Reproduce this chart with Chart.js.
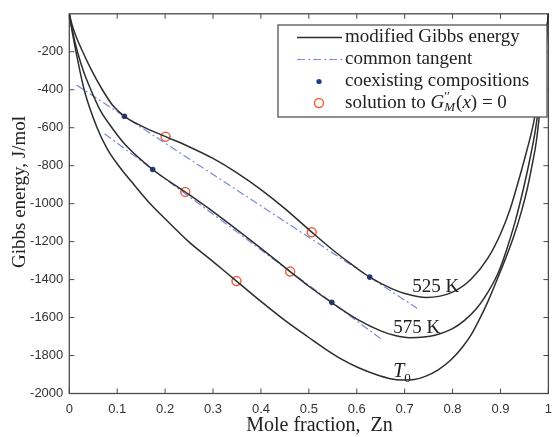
<!doctype html>
<html>
  <head>
    <script src="https://cdn.jsdelivr.net/npm/chart.js"></script>
    <meta name="viewport" content="width=device-width, initial-scale=1" />
    <style>
      html, body { margin: 0; padding: 0; overflow: hidden; background: #fff; }
      #wrap { position: relative; width: 560px; height: 437px; }
    </style>
  </head>
  <body>
    <div id="wrap"><canvas id="gibbsChart" width="560" height="437"></canvas></div>
    <script>
      // modified Gibbs energy (J/mol) against mole fraction of Zn
      const x525 = [0, 0.006, 0.015, 0.028, 0.045, 0.069, 0.09, 0.115, 0.15, 0.201, 0.25, 0.3, 0.35, 0.4, 0.45, 0.506, 0.55, 0.6, 0.627, 0.674, 0.7, 0.745, 0.8, 0.839, 0.873, 0.9, 0.92, 0.941, 0.955, 0.969, 0.985, 0.992, 1];
      const g525 = [0, -60, -125, -200, -290, -400, -480, -540, -590, -647, -700, -762, -838, -926, -1026, -1150, -1244, -1340, -1387, -1449, -1473, -1494, -1466, -1397, -1290, -1160, -1030, -850, -720, -576, -330, -190, 0];

      const x575 = [0, 0.005, 0.017, 0.03, 0.045, 0.065, 0.089, 0.117, 0.174, 0.243, 0.3, 0.372, 0.42, 0.461, 0.5, 0.547, 0.605, 0.65, 0.68, 0.71, 0.74, 0.763, 0.8, 0.825, 0.85, 0.866, 0.894, 0.912, 0.93, 0.948, 0.961, 0.973, 0.985, 0.993, 1];
      const g575 = [0, -70, -200, -305, -400, -510, -600, -690, -820, -940, -1042, -1180, -1275, -1358, -1435, -1520, -1615, -1670, -1695, -1706, -1703, -1693, -1658, -1615, -1552, -1498, -1372, -1250, -1100, -920, -770, -610, -380, -200, 0];

      const xT0 = [0, 0.005, 0.014, 0.031, 0.058, 0.08, 0.103, 0.13, 0.165, 0.2, 0.249, 0.3, 0.349, 0.4, 0.45, 0.5, 0.537, 0.57, 0.605, 0.64, 0.67, 0.695, 0.72, 0.743, 0.77, 0.798, 0.82, 0.839, 0.856, 0.873, 0.901, 0.928, 0.945, 0.956, 0.965, 0.975, 0.986, 0.994, 1];
      const gT0 = [0, -80, -200, -400, -600, -715, -800, -885, -990, -1080, -1200, -1305, -1408, -1515, -1615, -1705, -1770, -1822, -1866, -1900, -1922, -1929, -1926, -1910, -1876, -1820, -1758, -1690, -1610, -1520, -1350, -1170, -1030, -920, -810, -670, -420, -220, 0];

      // common tangents (end points)
      const tanX525 = [0.015, 0.726];
      const tanG525 = [-375, -1551];
      const tanX575 = [0.0735, 0.65];
      const tanG575 = [-632, -1711];

      // coexisting compositions
      const coexX = [0.115, 0.627, 0.174, 0.548];
      const coexG = [-540, -1387, -820, -1520];

      // solutions to G''_M(x) = 0
      const spinX = [0.201, 0.506, 0.242, 0.461, 0.349];
      const spinG = [-647, -1150, -938, -1358, -1408];

      const xTicks = [0, 0.1, 0.2, 0.3, 0.4, 0.5, 0.6, 0.7, 0.8, 0.9, 1];
      const yTicks = [-2000, -1800, -1600, -1400, -1200, -1000, -800, -600, -400, -200];

      const pts = (xs, ys) => xs.map((v, i) => ({ x: v, y: ys[i] }));

      const curveColor = "#2e2e2e";
      const tanColor = "#7b87dc";
      const dotColor = "#1d3c8e";
      const ringColor = "#f0623f";
      const serif = "'Liberation Serif', 'Times New Roman', serif";
      const sans = "'Liberation Sans', Arial, sans-serif";

      const curve = (label, data) => ({
        label, data,
        borderColor: curveColor, borderWidth: 1.5,
        pointRadius: 0, cubicInterpolationMode: "monotone", fill: false,
      });
      const tangent = (data) => ({
        label: "common tangent", data,
        borderColor: tanColor, borderWidth: 1.2, borderDash: [8, 3, 2, 3],
        pointRadius: 0, fill: false,
      });

      // box with inward ticks, axis titles, curve labels and the legend
      const decor = {
        id: "decor",
        beforeDatasetsDraw(chart) {
          const { ctx, chartArea: a, scales } = chart;
          ctx.save();
          ctx.strokeStyle = "#4a4a4a";
          ctx.lineWidth = 1.3;
          ctx.strokeRect(a.left, a.top, a.right - a.left, a.bottom - a.top);
          ctx.lineWidth = 1;
          ctx.beginPath();
          xTicks.forEach((v) => {
            const px = scales.x.getPixelForValue(v);
            ctx.moveTo(px, a.bottom); ctx.lineTo(px, a.bottom - 5);
            ctx.moveTo(px, a.top); ctx.lineTo(px, a.top + 5);
          });
          yTicks.forEach((v) => {
            const py = scales.y.getPixelForValue(v);
            ctx.moveTo(a.left, py); ctx.lineTo(a.left + 5, py);
            ctx.moveTo(a.right, py); ctx.lineTo(a.right - 5, py);
          });
          ctx.stroke();

          // axis titles
          ctx.fillStyle = "#222";
          ctx.textAlign = "center";
          ctx.textBaseline = "middle";
          ctx.font = "20px " + serif;
          ctx.fillText("Mole fraction,  Zn", 319.5, 426);
          ctx.translate(20, 192);
          ctx.rotate(-Math.PI / 2);
          ctx.font = "19px " + serif;
          ctx.fillText("Gibbs energy, J/mol", 0, 0);
          ctx.restore();
        },
        afterDatasetsDraw(chart) {
          const { ctx, scales } = chart;
          const sx = (v) => scales.x.getPixelForValue(v);
          const sy = (v) => scales.y.getPixelForValue(v);
          ctx.save();
          ctx.fillStyle = "#222";
          ctx.textBaseline = "middle";
          ctx.textAlign = "center";
          ctx.font = "19px " + serif;
          ctx.fillText("525 K", sx(0.765), sy(-1439));
          ctx.fillText("575 K", sx(0.725), sy(-1657));
          ctx.textAlign = "left";
          ctx.font = "italic 20px " + serif;
          ctx.fillText("T", sx(0.676), sy(-1885));
          ctx.font = "13px " + serif;
          ctx.fillText("0", sx(0.676) + 11, sy(-1885) + 7);

          // legend
          const L = 278, T = 25, W = 269, H = 92;
          ctx.fillStyle = "#fff";
          ctx.fillRect(L, T, W, H);
          ctx.strokeStyle = "#555";
          ctx.lineWidth = 1.3;
          ctx.strokeRect(L, T, W, H);
          const rows = [37.5, 59.5, 81.5, 103];
          const s1 = 297, s2 = 342, mx = 319, tx = 345;
          ctx.lineWidth = 1.5;
          ctx.strokeStyle = curveColor;
          ctx.beginPath(); ctx.moveTo(s1, rows[0]); ctx.lineTo(s2, rows[0]); ctx.stroke();
          ctx.lineWidth = 1.2;
          ctx.strokeStyle = tanColor;
          ctx.setLineDash([8, 3, 2, 3]);
          ctx.beginPath(); ctx.moveTo(s1, rows[1]); ctx.lineTo(s2, rows[1]); ctx.stroke();
          ctx.setLineDash([]);
          ctx.fillStyle = dotColor;
          ctx.beginPath(); ctx.arc(mx, rows[2], 2.6, 0, Math.PI * 2); ctx.fill();
          ctx.strokeStyle = ringColor;
          ctx.lineWidth = 1.5;
          ctx.beginPath(); ctx.arc(mx, rows[3], 4.5, 0, Math.PI * 2); ctx.stroke();

          ctx.fillStyle = "#222";
          ctx.font = "19px " + serif;
          ctx.fillText("modified Gibbs energy", tx, rows[0]);
          ctx.fillText("common tangent", tx, rows[1]);
          ctx.fillText("coexisting compositions", tx, rows[2]);
          let cx = tx;
          const put = (txt, font, dy) => {
            ctx.font = font;
            ctx.fillText(txt, cx, rows[3] + dy);
            cx += ctx.measureText(txt).width;
          };
          put("solution to ", "19px " + serif, 0);
          put("G", "italic 19px " + serif, 0);
          const gx = cx;
          ctx.font = "13px " + serif;
          ctx.fillText("\u2032\u2032", gx, rows[3] - 6);
          put("M", "italic 13px " + serif, 5);
          cx += 1;
          put("(", "19px " + serif, 0);
          put("x", "italic 19px " + serif, 0);
          put(") = 0", "19px " + serif, 0);
          ctx.restore();
        },
      };

      const ctx = document.getElementById("gibbsChart").getContext("2d");
      const gibbsChart = new Chart(ctx, {
        type: "line",
        data: {
          datasets: [
            curve("525 K", pts(x525, g525)),
            curve("575 K", pts(x575, g575)),
            curve("T0", pts(xT0, gT0)),
            tangent(pts(tanX525, tanG525)),
            tangent(pts(tanX575, tanG575)),
            {
              label: "coexisting compositions", data: pts(coexX, coexG), showLine: false,
              pointRadius: 2.8, pointBackgroundColor: dotColor, pointBorderColor: dotColor, pointBorderWidth: 0,
            },
            {
              label: "solution", data: pts(spinX, spinG), showLine: false,
              pointRadius: 4.5, pointBackgroundColor: "rgba(0,0,0,0)", pointBorderColor: ringColor, pointBorderWidth: 1.5,
            },
          ],
        },
        options: {
          responsive: false,
          animation: false,
          events: [],
          layout: { padding: { top: 10.5, right: 5, left: 0, bottom: 0 } },
          plugins: { legend: { display: false }, tooltip: { enabled: false } },
          scales: {
            x: {
              type: "linear", min: 0, max: 1,
              afterBuildTicks: (s) => { s.ticks = xTicks.map((v) => ({ value: v })); },
              afterFit: (s) => { s.height = 43.5; },
              grid: { display: false, drawTicks: false },
              border: { display: false },
              ticks: { padding: 8, color: "#333", font: { family: sans, size: 13 }, maxRotation: 0,
                callback: (v) => String(v) },
            },
            y: {
              type: "linear", min: -2000, max: 0,
              afterBuildTicks: (s) => { s.ticks = yTicks.map((v) => ({ value: v })); },
              afterFit: (s) => { s.width = 69.3; },
              grid: { display: false, drawTicks: false },
              border: { display: false },
              ticks: { padding: 6, color: "#333", font: { family: sans, size: 13 },
                callback: (v) => String(v) },
            },
          },
        },
        plugins: [decor],
      });
    </script>
  </body>
</html>
